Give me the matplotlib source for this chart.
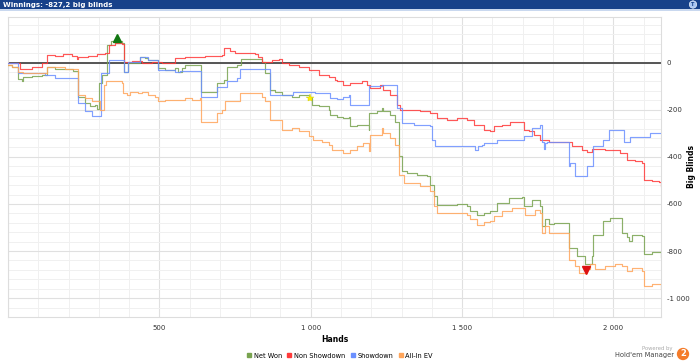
import matplotlib
matplotlib.use("Agg")
import matplotlib.pyplot as plt
from matplotlib.patches import Rectangle
from matplotlib.ticker import MultipleLocator, FuncFormatter

# data: (hands, big blinds) breakpoints
net_won_x = [0, 12, 34, 45, 51, 78, 111, 128, 155, 188, 216, 230, 254, 271, 288, 293, 301, 310, 326, 340, 376,
             382, 395, 436, 453, 464, 497, 519, 552, 563, 574, 585, 638, 690, 712, 723, 756, 770, 838, 849, 866,
             882, 905, 937, 960, 993, 1004, 1026, 1059, 1064, 1086, 1108, 1125, 1130, 1152, 1191, 1194, 1219, 1235,
             1240, 1263, 1279, 1290, 1301, 1318, 1351, 1384, 1395, 1406, 1417, 1483, 1516, 1527, 1549, 1571, 1593,
             1615, 1654, 1698, 1706, 1731, 1758, 1764, 1775, 1786, 1802, 1850, 1854, 1879, 1907, 1929, 1934, 1967,
             1990, 2028, 2045, 2050, 2061, 2094, 2100, 2127, 2157]
net_won_y = [-10, -17, -70, -76, -59, -55, -52, -20, -25, -28, -34, -145, -170, -185, -180, -195, -88, -52, 75, 93, 85,
             -38, 0, 22, 18, 11, -24, -31, -24, -38, -24, -10, -123, -88, -73, -17, -10, 14, 4, -45, -116,
             -123, -137, -144, -137, -151, -179, -186, -200, -222, -229, -236, -229, -271, -264, -285, -214, -207, -193,
             -207, -222, -250, -398, -461, -468, -475, -480, -518, -567, -603, -599, -607, -631, -645, -638, -631,
             -596, -575, -572, -610, -582, -610, -694, -666, -687, -680, -680, -786, -822, -857, -822, -730, -673,
             -659, -723, -740, -758, -730, -737, -814, -805, -827]

non_sd_x = [0, 34, 40, 78, 111, 128, 155, 183, 210, 227, 232, 265, 293, 320, 332, 354, 376, 384, 409, 442, 475, 508,
            552, 585, 651, 706, 712, 734, 750, 783, 816, 827, 838, 871, 894, 905, 927, 960, 993, 1026, 1059, 1081,
            1086, 1108, 1130, 1169, 1185, 1196, 1229, 1240, 1263, 1285, 1296, 1329, 1362, 1395, 1417, 1450, 1483,
            1516, 1538, 1571, 1593, 1604, 1626, 1632, 1659, 1692, 1703, 1720, 1736, 1758, 1786, 1808, 1846, 1863,
            1896, 1912, 1929, 1973, 1995, 2023, 2045, 2072, 2094, 2100, 2127, 2149, 2157]
non_sd_y = [-3, -3, -28, -17, -3, 33, 28, 37, 28, 14, 25, 28, 37, 40, 75, 82, 79, 4, 7, 0, 4, 0,
            18, 25, 28, 33, 61, 51, 42, 40, 37, 25, 4, 11, 14, -3, -10, -17, -31, -52, -59, -73,
            -80, -94, -87, -76, -94, -108, -94, -116, -137, -179, -200, -203, -207, -214, -236, -243, -236,
            -243, -264, -285, -292, -271, -268, -264, -250, -254, -285, -292, -306, -327, -335, -339, -335, -356,
            -370, -381, -367, -370, -373, -384, -412, -419, -426, -497, -504, -508, -522]

showdown_x = [0, 34, 122, 155, 230, 254, 276, 307, 334, 382, 395, 436, 464, 497, 552, 569, 638, 690, 723, 756, 767,
              866, 943, 1015, 1064, 1086, 1108, 1125, 1130, 1194, 1235, 1285, 1301, 1340, 1395, 1400, 1411, 1543,
              1554, 1565, 1571, 1615, 1703, 1731, 1758, 1764, 1769, 1775, 1780, 1852, 1857, 1874, 1912, 1934, 1967,
              1984, 2034, 2056, 2122, 2157]
showdown_y = [0, -45, -52, -66, -172, -207, -226, -45, 11, -38, 4, 25, 11, -31, -38, -34, -144, -102, -80, -66, -28,
              -137, -123, -130, -151, -155, -144, -137, -179, -99, -94, -193, -257, -264, -271, -327, -356, -370,
              -356, -349, -342, -327, -313, -278, -264, -335, -367, -342, -335, -440, -426, -483, -440, -356, -327,
              -285, -335, -316, -299, -299]

allin_ev_x = [0, 12, 34, 51, 111, 128, 155, 188, 221, 230, 254, 276, 304, 318, 325, 376, 381, 392, 403, 431, 442, 464,
              486, 497, 519, 552, 585, 607, 635, 638, 690, 706, 717, 767, 838, 849, 866, 905, 937, 960, 993, 1009,
              1037, 1059, 1070, 1108, 1130, 1152, 1174, 1191, 1196, 1235, 1240, 1263, 1279, 1290, 1307, 1362, 1395,
              1406, 1417, 1516, 1527, 1549, 1571, 1593, 1604, 1632, 1665, 1709, 1742, 1758, 1764, 1775, 1786, 1850,
              1854, 1874, 1885, 1912, 1923, 1940, 1973, 2006, 2028, 2045, 2061, 2094, 2100, 2127, 2157]
allin_ev_y = [-10, -17, -40, -45, -45, -17, -20, -25, -28, -137, -150, -165, -200, -95, -80, -85, -130, -137, -123, -130,
              -123, -137, -144, -165, -158, -158, -151, -158, -151, -250, -215, -200, -165, -130, -144, -165, -243,
              -285, -278, -292, -313, -327, -335, -349, -370, -384, -370, -356, -342, -377, -306, -278, -300, -320,
              -349, -475, -511, -525, -546, -610, -638, -645, -666, -688, -677, -673, -652, -631, -617, -645, -624,
              -638, -723, -694, -723, -723, -836, -864, -892, -878, -857, -878, -864, -857, -864, -885, -871, -885,
              -949, -942, -963]

best_point = (360, 105)
worst_point = (1909, -880)
star_point = (998, -151)

series = [
    ("Net Won", net_won_x, net_won_y, "#78a34f"),
    ("Non Showdown", non_sd_x, non_sd_y, "#ff3a3a"),
    ("Showdown", showdown_x, showdown_y, "#6b90ff"),
    ("All-In EV", allin_ev_x, allin_ev_y, "#ffa55a"),
]

fig = plt.figure(figsize=(7, 3.62), dpi=100)
fig.patch.set_facecolor("white")

# header bar
fig.patches.append(Rectangle((0, 1 - 9 / 362), 1, 9 / 362, transform=fig.transFigure,
                             facecolor="#17418a", edgecolor="none", zorder=0))
fig.patches.append(Rectangle((0, 1 - 10.5 / 362), 1, 1.5 / 362, transform=fig.transFigure,
                             facecolor="#c9d8ef", edgecolor="none", zorder=0))
fig.text(3 / 700, 1 - 4.6 / 362, "Winnings: -827,2 big blinds", color="white", fontsize=5,
         fontweight="bold", va="center", ha="left")
fig.text(693 / 700, 1 - 4.5 / 362, "T", fontsize=3.5, color="#17418a", fontweight="bold", ha="center",
         va="center", bbox=dict(boxstyle="circle,pad=0.25", fc="#a9c6f2", ec="white", lw=0.4))

ax = fig.add_axes([8 / 700, 1 - 317 / 362, 653 / 700, 300.3 / 362])
ax.set_xlim(0, 2157)
ax.set_ylim(-1080, 195)

ax.xaxis.set_major_locator(MultipleLocator(500))
ax.xaxis.set_minor_locator(MultipleLocator(100))
ax.yaxis.set_major_locator(MultipleLocator(200))
ax.yaxis.set_minor_locator(MultipleLocator(40))
ax.grid(which="minor", color="#f0f0f0", lw=0.7, zorder=0)
ax.grid(which="major", color="#e0e0e0", lw=0.8, zorder=0)

ax.xaxis.set_major_formatter(FuncFormatter(lambda v, p: "" if v == 0 else f"{int(v):,}".replace(",", " ")))
ax.yaxis.set_major_formatter(FuncFormatter(lambda v, p: f"{int(v):,}".replace(",", " ")))
ax.yaxis.tick_right()
ax.yaxis.set_label_position("right")
ax.tick_params(axis="both", which="both", length=0, labelsize=5, colors="#333333", pad=4)
ax.tick_params(axis="x", pad=6)
ax.set_xlabel("Hands", fontsize=5.5, fontweight="bold", labelpad=3)
ax.set_ylabel("Big Blinds", fontsize=5.5, fontweight="bold")
ax.yaxis.set_label_coords(1.04, 0.5)
for s in ax.spines.values():
    s.set_color("#dddddd")
    s.set_linewidth(0.8)

ax.axhline(0, color="#555555", lw=1.4, zorder=2)

for name, xs, ys, col in series:
    ax.plot(xs, ys, drawstyle="steps-post", color=col, lw=0.85, alpha=0.85, zorder=3, label=name)

ax.plot(*best_point, marker="^", color="#117711", ms=6, zorder=5)
ax.plot(*worst_point, marker="v", color="#dd1111", ms=6, zorder=5)
ax.plot(*star_point, marker="*", color="#ffee00", mec="#cccc00", mew=0.3, ms=6, zorder=5)

# legend
handles = [plt.Line2D([], [], ls="none", marker="s", ms=2.5, color=c) for _, _, _, c in series]
fig.legend(handles, [s[0] for s in series], loc="center", bbox_to_anchor=(340 / 700, 1 - 355.5 / 362),
           ncol=4, frameon=False, fontsize=4.8, handlelength=0.6, handletextpad=0.4, columnspacing=0.8)

# powered-by logo
fig.text(672 / 700, 1 - 348.5 / 362, "Powered by", fontsize=3.8, color="#aaaaaa", ha="right", va="center")
fig.text(674 / 700, 1 - 355 / 362, "Hold'em Manager", fontsize=4.8, color="#444444", ha="right", va="center")
fig.text(683 / 700, 1 - 354 / 362, "2", fontsize=6, color="white", fontweight="bold", ha="center", va="center",
         bbox=dict(boxstyle="circle,pad=0.2", fc="#f47b2a", ec="none"))

fig.savefig("out.png", dpi=100)
